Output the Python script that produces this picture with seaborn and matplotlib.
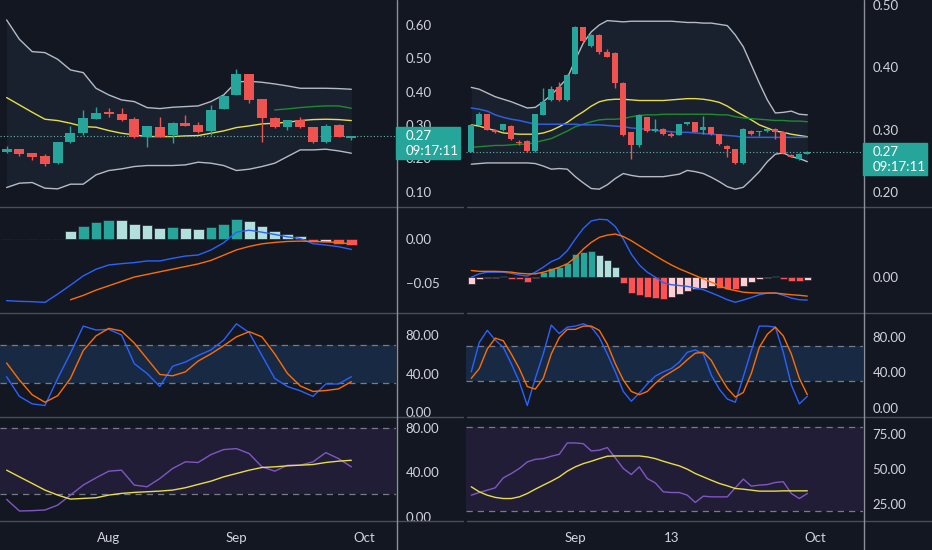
import numpy as np
import pandas as pd
import matplotlib
matplotlib.use("Agg")
import matplotlib.pyplot as plt
import seaborn as sns
from matplotlib.lines import Line2D
from matplotlib.patches import Rectangle

nan = np.nan

# ---------------- left chart: 3-day candles ----------------
l_open = [.218, .228, .215, .206, .185, .248, .275, .319, .338, .332, .317, .265, .293, .270,
          .307, .299, .283, .348, .391, .453, .377, .322, .293, .315, .293, .248, .300, .262]
l_close = [.228, .212, .203, .183, .248, .277, .320, .335, .332, .315, .263, .297, .265, .307,
           .297, .280, .345, .388, .453, .375, .322, .293, .314, .293, .248, .298, .265, .267]
l_high = [.238, .229, .216, .212, .249, .297, .345, .355, .350, .350, .325, .298, .323, .308,
          .330, .310, .360, .390, .467, .454, .378, .323, .315, .323, .294, .303, .303, .268]
l_low = [.216, .208, .195, .177, .184, .247, .270, .317, .323, .312, .262, .235, .264, .247,
         .296, .277, .270, .347, .390, .365, .250, .292, .285, .292, .247, .247, .264, .255]
l_bb_upper = [.615, .557, .520, .517, .497, .465, .457, .410, .390, .375, .370, .352, .349, .353,
              .355, .357, .370, .390, .429, .431, .428, .423, .417, .410, .410, .410, .409, .407]
l_bb_lower = [.112, .125, .127, .110, .108, .122, .122, .150, .163, .168, .175, .178, .178, .178,
              .180, .188, .185, .178, .163, .167, .175, .185, .205, .225, .225, .227, .222, .215]
l_bb_basis = [.382, .360, .338, .317, .313, .305, .295, .293, .283, .275, .270, .265, .265, .265,
              .267, .268, .275, .282, .292, .297, .303, .305, .308, .313, .316, .317, .316, .313]
l_ma_green = [nan] * 21 + [.345, .348, .352, .355, .357, .357, .350]
l_macd = [-.0700, -.0708, -.0712, -.0720, -.0625, -.0523, -.0417, -.0341, -.0292, -.0277,
          -.0265, -.0246, -.0246, -.0216, -.0190, -.0178, -.0121, -.0038, .0083, .0106,
          .0083, .0057, .0030, .0011, -.0049, -.0064, -.0083, -.0114]
l_signal = [nan] * 5 + [-.069, -.064, -.058, -.053, -.048, -.043, -.040, -.037, -.034, -.031,
                        -.028, -.024, -.018, -.012, -.008, -.005, -.0034, -.0023, -.0019,
                        -.0023, -.0027, -.0034, -.0053]
l_hist = [nan] * 5 + [.0102, .0159, .0205, .0223, .0220, .0182, .0167, .0136, .0144, .0133,
                      .0114, .0144, .0178, .0235, .0216, .0152, .0102, .0064, .0034, -.0030,
                      -.0025, -.0050, -.0060]
l_stoch_k = [36.8, 16.4, 8.6, 6.9, 35.1, 61.3, 89.5, 85.4, 86.1, 80.3, 50.4, 40.2, 26.6, 47.7,
             52.1, 58.9, 64.7, 74.9, 91.9, 82.7, 58.9, 35.1, 26.6, 22.2, 16.4, 29.3, 29.3, 36.8]
l_stoch_d = [51.1, 33.4, 18.1, 10.3, 17.1, 35.1, 64.0, 79.3, 87.1, 84.4, 71.8, 55.5, 39.2, 37.8,
             41.9, 53.1, 60.6, 69.1, 78.3, 83.7, 78.3, 60.6, 40.2, 27.3, 21.5, 22.5, 24.2, 31.7]
l_rsi = [15.5, 5.1, 5.4, 6.0, 10.4, 19.4, 28.4, 34.9, 40.9, 41.8, 28.4, 26.9, 34.3, 43.3,
         49.3, 48.7, 55.8, 60.3, 61.2, 56.7, 44.8, 40.9, 46.3, 46.3, 49.3, 57.6, 52.2, 44.8]
l_rsi_ma = [41.8, 35.8, 29.9, 23.9, 19.4, 15.8, 16.4, 17.0, 19.4, 20.9, 21.8, 22.4, 23.0, 23.9,
            26.0, 29.0, 31.9, 35.8, 38.8, 41.8, 44.2, 44.8, 45.7, 46.3, 46.9, 48.7, 49.9, 50.7]
l_date_idx = [8, 18, 28]
l_date_lbl = ["Aug", "Sep", "Oct"]

# ---------------- right chart: daily candles ----------------
r_open = [.265, .308, .325, .300, .299, .306, .281, .282, .266, .324, .348, .368, .348, .390,
          .464, .434, .452, .425, .423, .375, .296, .276, .320, .298, .302, .294, .292, .309,
          .312, .300, .304, .293, .274, .269, .247, .298, .296, .298, .302, .296, .260, .253, .262]
r_close = [.308, .325, .300, .297, .309, .285, .279, .266, .325, .345, .365, .348, .388, .465,
           .442, .452, .424, .417, .375, .291, .276, .324, .298, .302, .293, .290, .309, .312,
           .297, .304, .293, .277, .270, .247, .302, .293, .298, .301, .296, .263, .257, .262, .265]
r_high = [.309, .328, .326, .302, .310, .307, .284, .283, .326, .367, .370, .376, .390, .466,
          .465, .453, .453, .430, .424, .376, .297, .325, .321, .317, .303, .297, .310, .313,
          .313, .322, .305, .294, .275, .270, .303, .299, .298, .302, .303, .297, .261, .263, .266]
r_low = [.264, .307, .299, .295, .298, .284, .276, .265, .265, .323, .346, .347, .347, .389,
         .440, .433, .422, .416, .367, .290, .253, .273, .297, .297, .291, .289, .291, .308,
         .296, .294, .292, .276, .256, .246, .246, .292, .290, .297, .286, .262, .256, .252, .261]
r_bb_upper = [.368, .365, .359, .353, .349, .345, .340, .335, .336, .345, .356, .369, .383, .412,
              .439, .457, .468, .475, .474, .473, .474, .474, .474, .474, .474, .474, .473, .472,
              .472, .471, .471, .469, .467, .452, .433, .404, .375, .348, .327, .328, .330, .325, .324]
r_bb_lower = [.245, .246, .247, .247, .247, .247, .247, .247, .246, .242, .237, .238, .237, .225,
              .215, .206, .205, .212, .222, .230, .227, .225, .225, .225, .225, .227, .229, .235,
              .233, .230, .224, .217, .209, .205, .208, .220, .233, .249, .261, .263, .257, .254, .249]
r_bb_basis = [.308, .306, .302, .299, .295, .294, .293, .293, .293, .295, .299, .305, .312, .321,
              .329, .338, .345, .348, .349, .349, .348, .347, .347, .347, .347, .348, .349, .350,
              .350, .349, .347, .344, .338, .330, .323, .316, .308, .303, .298, .296, .293, .291, .289]
r_ma_green = [.272, .273, .274, .275, .275, .276, .277, .277, .280, .283, .286, .292, .298, .305,
              .309, .313, .316, .317, .317, .318, .321, .323, .324, .324, .325, .325, .325, .325,
              .325, .325, .325, .324, .324, .321, .319, .318, .317, .316, .315, .315, .314, .314, .313]
r_ma_blue = [.335, .333, .330, .324, .320, .317, .315, .312, .309, .309, .309, .309, .309, .309,
             .308, .308, .308, .307, .306, .305, .303, .302, .301, .299, .298, .297, .296, .296,
             .295, .294, .293, .292, .291, .290, .288, .288, .288, .288, .288, .288, .288, .288, .288]
r_macd = [0, .0012, .0018, .0018, .0018, .0014, .0008, .0004, .0018, .0036, .0056, .0068, .0095,
          .0137, .0175, .0202, .0208, .0206, .0182, .0137, .0083, .0044, .0018, 0, -.0020, -.0027,
          -.0030, -.0033, -.0039, -.0045, -.0056, -.0068, -.0081, -.0090, -.0082, -.0073, -.0063,
          -.0057, -.0056, -.0065, -.0075, -.0081, -.0082]
r_signal = [.0024, .0021, .0021, .0021, .0020, .0018, .0014, .0012, .0012, .0018, .0026, .0036,
            .0048, .0071, .0101, .0125, .0143, .0151, .0155, .0146, .0131, .0113, .0095, .0077,
            .0060, .0044, .0030, .0018, .0006, -.0006, -.0018, -.0030, -.0042, -.0048, -.0054,
            -.0056, -.0057, -.0057, -.0057, -.0060, -.0063, -.0065, -.0068]
r_hist = [-.0024, -.0006, -.0004, -.0002, .0004, -.0006, -.0008, -.0018, -.0002, .0018, .0032,
          .0036, .0051, .0083, .0092, .0093, .0080, .0062, .0036, -.0020, -.0056, -.0065, -.0071,
          -.0075, -.0077, -.0071, -.0060, -.0048, -.0042, -.0038, -.0033, -.0038, -.0042, -.0044,
          -.0030, -.0018, -.0008, -.0004, .0004, -.0006, -.0012, -.0014, -.0010]
r_stoch_k = [40.7, 73.5, 86.9, 76.0, 68.0, 49.8, 29.8, 3.3, 33.5, 60.7, 92.7, 83.3, 90.5, 91.6,
             94.2, 90.5, 78.9, 60.7, 40.7, 18.9, 8.0, 17.1, 27.3, 36.0, 40.7, 44.4, 51.6, 62.5,
             65.1, 60.7, 37.1, 21.5, 10.5, 6.9, 35.3, 64.4, 91.6, 91.6, 90.5, 62.5, 26.2, 5.1, 13.5]
r_stoch_d = [33.5, 44.4, 66.2, 78.2, 75.3, 60.7, 44.4, 24.4, 21.5, 33.5, 60.7, 78.9, 88.0, 88.0,
             91.6, 91.6, 86.9, 71.6, 49.8, 31.6, 18.9, 15.3, 18.9, 28.0, 35.3, 40.7, 46.2, 54.2,
             61.5, 62.5, 53.5, 37.1, 22.5, 12.7, 17.8, 38.9, 68.0, 82.5, 90.5, 80.7, 60.7, 33.5, 15.3]
r_rsi = [31.4, 33.3, 35.0, 36.7, 43.8, 46.9, 50.5, 55.2, 57.1, 57.6, 59.3, 60.7, 68.8, 68.8,
         68.3, 63.1, 63.6, 65.5, 58.1, 50.5, 46.2, 51.7, 43.3, 40.2, 33.8, 33.3, 33.3, 31.4,
         26.2, 30.7, 30.2, 30.2, 30.2, 36.7, 42.9, 37.9, 38.6, 39.0, 40.5, 41.0, 32.6, 29.0, 32.6]
r_rsi_ma = [37.4, 33.8, 31.4, 29.8, 29.0, 29.0, 30.2, 32.6, 35.7, 38.6, 41.4, 44.5, 48.6, 51.7,
            54.0, 55.7, 57.6, 59.3, 59.5, 59.5, 59.5, 59.5, 58.8, 57.6, 55.7, 54.0, 52.4, 50.0,
            46.9, 44.5, 42.1, 39.8, 38.1, 36.2, 35.7, 35.0, 34.3, 34.3, 34.3, 34.5, 34.5, 34.5, 34.5]
r_date_idx = [13, 25, 43]
r_date_lbl = ["Sep", "13", "Oct"]

last_price_lbl = "0.27"
countdown_lbl = "09:17:11"

# ---------------- style ----------------
BG = "#131722"
UP, DOWN = "#26a69a", "#ef5350"
TXT = "#d1d4dc"
sns.set_theme(style="dark", rc={"axes.facecolor": BG, "figure.facecolor": BG,
                                "savefig.facecolor": BG})
plt.rcParams["font.family"] = ["Lato", "DejaVu Sans"]

W, H = 932, 550
fig = plt.figure(figsize=(W / 100, H / 100), dpi=100)


def px_axes(x0, x1, y0, y1):
    ax = fig.add_axes([x0 / W, 1 - y1 / H, (x1 - x0) / W, (y1 - y0) / H])
    ax.set_facecolor(BG)
    for s in ax.spines.values():
        s.set_visible(False)
    ax.yaxis.tick_right()
    ax.tick_params(axis="y", length=0, pad=7, labelsize=9.5, labelcolor=TXT)
    ax.tick_params(axis="x", length=0, pad=8, labelsize=9.5, labelcolor=TXT)
    ax.set_xticks([])
    return ax


def fmt(v):
    return f"{v:.2f}".replace("-", "\u2212")


def line(ax, x, y, color, lw=1.0):
    sns.lineplot(x=x, y=y, ax=ax, color=color, linewidth=lw, estimator=None)
    ax.set_xlabel("")
    ax.set_ylabel("")


def draw_chart(x0, x1, xlim, width, d):
    n = len(d["open"])
    x = np.arange(n)
    o, c = np.array(d["open"]), np.array(d["close"])
    cols = [UP if cc >= oo else DOWN for oo, cc in zip(o, c)]

    # price pane
    ax = px_axes(x0, x1, 0, 206)
    ax.fill_between(x, d["lower"], d["upper"], color="#19212f", lw=0, zorder=0)
    line(ax, x, d["upper"], "#b6bac4")
    line(ax, x, d["lower"], "#b6bac4")
    line(ax, x, d["basis"], "#e8dd45")
    line(ax, x, d["green"], "#1f8b2f")
    if d.get("blue") is not None:
        line(ax, x, d["blue"], "#2f5fe0", 1.1)
    ax.vlines(x, d["low"], d["high"], colors=cols, lw=1, zorder=3)
    body = np.maximum(np.abs(c - o), 0.0015)
    ax.bar(x, body, bottom=np.minimum(o, c), width=width, color=cols, lw=0, zorder=4)
    ax.axhline(c[-1], color="#6fb3ab", ls=(0, (1, 2)), lw=0.8, zorder=2)
    ax.set_xlim(*xlim)
    ax.set_ylim(*d["pylim"])
    ax.set_yticks(d["pticks"])
    ax.set_yticklabels([fmt(t) for t in d["pticks"]])
    ax.set_xticks([])
    # last price badge
    yd = ax.transData.transform((0, c[-1]))[1]
    ypx = H - yd
    fig.patches.append(Rectangle((x1 / W, 1 - (ypx + 23) / H), 64 / W, 32 / H,
                                 transform=fig.transFigure, color=UP, zorder=5))
    fig.text((x1 + 10) / W, 1 - ypx / H, last_price_lbl, color="white", fontsize=9.5,
             va="center", ha="left", zorder=6)
    fig.text((x1 + 10) / W, 1 - (ypx + 15) / H, countdown_lbl, color="white", fontsize=9.5,
             va="center", ha="left", zorder=6)

    # MACD pane
    ax = px_axes(x0, x1, 207, 312)
    hist = np.array(d["hist"])
    hcols = []
    prev = nan
    for h in hist:
        if np.isnan(h):
            hcols.append(BG)
        elif h >= 0:
            hcols.append("#26a69a" if (not np.isnan(prev) and h > prev) else "#b2dfdb")
        else:
            hcols.append("#ff5252" if (not np.isnan(prev) and h < prev) else "#ffcdd2")
        prev = h
    ax.bar(x, np.nan_to_num(hist), width=width * 1.08, color=hcols, lw=0.5,
           edgecolor="#1d2230", zorder=2)
    line(ax, x, d["macd"], "#2962ff")
    line(ax, x, d["signal"], "#ff6d00")
    ax.set_xlim(*xlim)
    ax.set_ylim(*d["mylim"])
    ax.set_yticks(d["mticks"])
    ax.set_yticklabels([fmt(t) for t in d["mticks"]])
    ax.set_xticks([])

    # Stochastic pane
    ax = px_axes(x0, x1, 313, 416)
    ax.axhspan(30, 70, color="#182a43", lw=0, zorder=0)
    for lv in (30, 70):
        ax.axhline(lv, color="#787b86", ls=(0, (5, 4)), lw=0.9, zorder=1)
    line(ax, x, d["k"], "#2962ff")
    line(ax, x, d["d"], "#ff6d00")
    ax.set_xlim(*xlim)
    ax.set_ylim(*d["sylim"])
    ax.set_yticks([0, 40, 80])
    ax.set_yticklabels([fmt(t) for t in [0, 40, 80]])
    ax.set_xticks([])

    # RSI pane
    ax = px_axes(x0, x1, 417, 521)
    ax.axhspan(20, 80, color="#211d36", lw=0, zorder=0)
    for lv in (20, 80):
        ax.axhline(lv, color="#787b86", ls=(0, (5, 4)), lw=0.9, zorder=1)
    line(ax, x, d["rsi"], "#7e57c2")
    line(ax, x, d["rsi_ma"], "#e8dd45")
    ax.set_xlim(*xlim)
    ax.set_ylim(*d["rylim"])
    ax.set_yticks(d["rticks"])
    ax.set_yticklabels([fmt(t) for t in d["rticks"]])
    ax.set_xticks(d["date_idx"])
    ax.set_xticklabels(d["date_lbl"])


left = dict(open=l_open, close=l_close, high=l_high, low=l_low, upper=l_bb_upper,
            lower=l_bb_lower, basis=l_bb_basis, green=l_ma_green, blue=None,
            macd=l_macd, signal=l_signal, hist=l_hist, k=l_stoch_k, d=l_stoch_d,
            rsi=l_rsi, rsi_ma=l_rsi_ma, date_idx=l_date_idx, date_lbl=l_date_lbl,
            pylim=(0.0565, 0.675), pticks=[0.1, 0.2, 0.3, 0.4, 0.5, 0.6],
            mylim=(-0.083, 0.0371), mticks=[-0.05, 0.0],
            sylim=(-4.0, 103.1), rylim=(-3.9, 89.6), rticks=[0, 40, 80])
right = dict(open=r_open, close=r_close, high=r_high, low=r_low, upper=r_bb_upper,
             lower=r_bb_lower, basis=r_bb_basis, green=r_ma_green, blue=r_ma_blue,
             macd=r_macd, signal=r_signal, hist=r_hist, k=r_stoch_k, d=r_stoch_d,
             rsi=r_rsi, rsi_ma=r_rsi_ma, date_idx=r_date_idx, date_lbl=r_date_lbl,
             pylim=(0.178, 0.508), pticks=[0.2, 0.3, 0.4, 0.5],
             mylim=(-0.0125, 0.0252), mticks=[0.0],
             sylim=(-8.4, 106.2), rylim=(12.9, 87.4), rticks=[25, 50, 75])

draw_chart(0, 396, (-0.52, 30.5), 0.78, left)
draw_chart(466, 863, (-0.66, 48.96), 0.75, right)

# pane separators and price-scale borders
for y in (206.5, 312.5, 416.5, 521):
    for xa, xb in ((0, 463), (467, 932)):
        fig.add_artist(Line2D([xa / W, xb / W], [1 - y / H] * 2, transform=fig.transFigure,
                              color="#4a4e59", lw=1, zorder=3))
for xv in (396.5, 863.5):
    fig.add_artist(Line2D([xv / W] * 2, [0, 1], transform=fig.transFigure,
                          color="#8c8f98", lw=1, zorder=3))

fig.savefig("out.png", dpi=100)
